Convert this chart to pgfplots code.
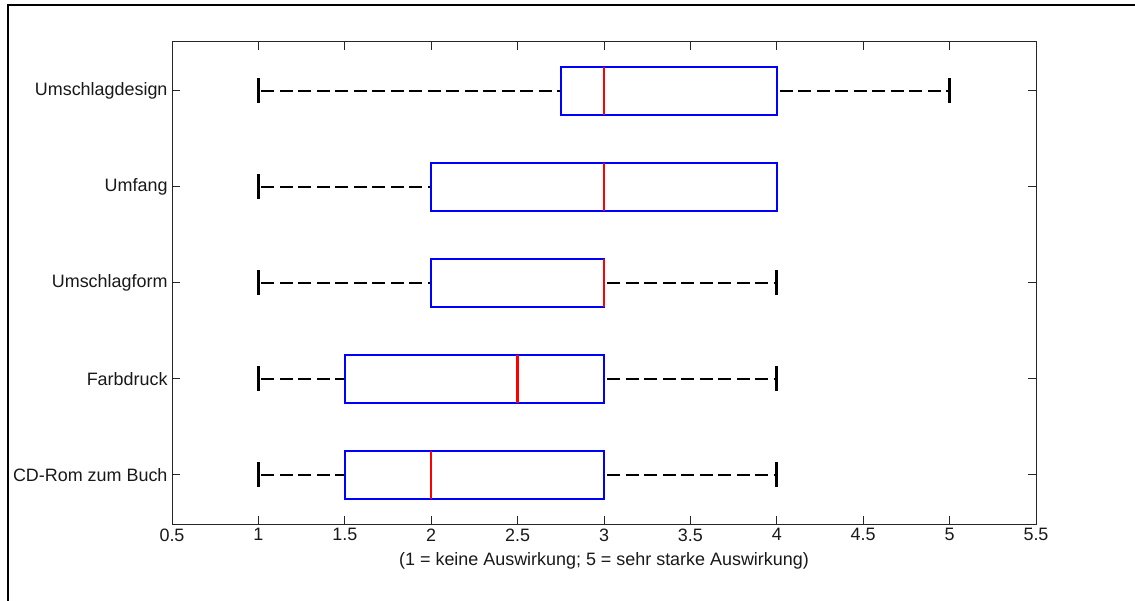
\documentclass[border=0pt]{standalone}
\usepackage{fontspec}
\setmainfont{Liberation Sans}
\usepackage{pgfplots}
\pgfplotsset{compat=1.18}
\definecolor{mblue}{RGB}{0,0,255}
\definecolor{mred}{RGB}{255,0,0}
\begin{document}
\begin{tikzpicture}
\useasboundingbox (0,0) rectangle (1135bp,601bp);
\fill[white] (0,0) rectangle (1135bp,601bp);
\draw[line width=2bp] (7.5bp,0) -- (7.5bp,595.5bp) -- (1135bp,595.5bp);
\begin{axis}[
  at={(172bp,77bp)}, anchor=south west,
  scale only axis, width=864bp, height=482bp,
  xmin=0.5, xmax=5.5, ymin=0.489583, ymax=5.510417,
  xtick={0.5,1,1.5,2,2.5,3,3.5,4,4.5,5,5.5},
  ytick={1,2,3,4,5},
  yticklabels={CD-Rom zum Buch, Farbdruck, Umschlagform, Umfang, Umschlagdesign},
  tick align=inside, major tick length=8bp,
  axis line style={line width=1bp, black!85},
  every tick/.style={black!85, line width=1bp},
  /pgf/number format/assume math mode=true,
  ticklabel style={font=\fontsize{18}{21}\selectfont, text=black!90},
  yticklabel style={xshift=-1bp},
  xticklabel style={yshift=-1bp},
  xlabel={(1 = keine Auswirkung; 5 = sehr starke Auswirkung)},
  xlabel style={font=\fontsize{18}{21}\selectfont, text=black!90, at={(axis description cs:0.5,0)}, anchor=center, yshift=-37bp},
  clip=false,
  wh/.style={black, line width=2bp, dash pattern=on 13bp off 5.5bp, dash phase=-3bp, no marks},
  cp/.style={black, only marks, mark=|, mark size=12.5bp, mark options={solid, line width=2.8bp}},
  bx/.style={mblue, line width=2bp, line join=miter, no marks},
  md/.style={mred, line width=2.3bp, no marks},
]
% Umschlagdesign (y=5): min 1, Q1 2.75, med 3, Q3 4, max 5
\addplot[wh] coordinates {(1,5) (2.75,5)};
\addplot[wh] coordinates {(4,5) (5,5)};
\addplot[cp] coordinates {(1,5) (5,5)};
\addplot[bx] coordinates {(2.75,4.75) (4,4.75) (4,5.25) (2.75,5.25)} -- cycle;
\addplot[md] coordinates {(3,4.75) (3,5.25)};
% Umfang (y=4): min 1, Q1 2, med 3, Q3 4, max 4
\addplot[wh] coordinates {(1,4) (2,4)};
\addplot[cp] coordinates {(1,4)};
\addplot[bx] coordinates {(2,3.75) (4,3.75) (4,4.25) (2,4.25)} -- cycle;
\addplot[md] coordinates {(3,3.75) (3,4.25)};
% Umschlagform (y=3): min 1, Q1 2, med 3, Q3 3, max 4
\addplot[wh] coordinates {(1,3) (2,3)};
\addplot[wh] coordinates {(3,3) (4,3)};
\addplot[cp] coordinates {(1,3) (4,3)};
\addplot[bx] coordinates {(2,2.75) (3,2.75) (3,3.25) (2,3.25)} -- cycle;
\addplot[md] coordinates {(3,2.75) (3,3.25)};
% Farbdruck (y=2): min 1, Q1 1.5, med 2.5, Q3 3, max 4
\addplot[wh] coordinates {(1,2) (1.5,2)};
\addplot[wh] coordinates {(3,2) (4,2)};
\addplot[cp] coordinates {(1,2) (4,2)};
\addplot[bx] coordinates {(1.5,1.75) (3,1.75) (3,2.25) (1.5,2.25)} -- cycle;
\addplot[md] coordinates {(2.5,1.75) (2.5,2.25)};
% CD-Rom zum Buch (y=1): min 1, Q1 1.5, med 2, Q3 3, max 4
\addplot[wh] coordinates {(1,1) (1.5,1)};
\addplot[wh] coordinates {(3,1) (4,1)};
\addplot[cp] coordinates {(1,1) (4,1)};
\addplot[bx] coordinates {(1.5,0.75) (3,0.75) (3,1.25) (1.5,1.25)} -- cycle;
\addplot[md] coordinates {(2,0.75) (2,1.25)};
\end{axis}
\end{tikzpicture}
\end{document}
